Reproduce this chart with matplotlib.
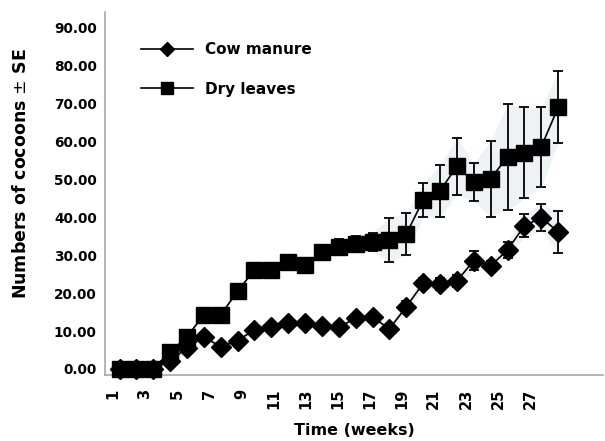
import numpy as np
import matplotlib
matplotlib.use('Agg')
import matplotlib.pyplot as plt

plt.rcParams['font.family'] = ['DejaVu Sans']

##################################### data
weeks = np.arange(1, 28)
cow_manure = [0, 0, 0, 2.2, 5.5, 8.5, 5.8, 7.5, 10.3, 11.0, 12.2, 12.0, 11.2, 11.0,
              13.4, 13.6, 10.6, 16.4, 22.6, 22.4, 23.2, 28.6, 27.2, 31.4, 37.8, 39.9, 36.2]
cow_se = [0, 0, 0, 1, 1, 1, 0.8, 0.8, 1, 1, 1, 0.8, 0.8, 0.8,
          0.8, 0.8, 1, 1.5, 1.5, 1.5, 1.5, 2.5, 1.2, 2, 3, 3.5, 5.5]
dry_leaves = [0, 0, 0, 4.5, 8.5, 14.3, 14.3, 20.5, 26.2, 26.2, 28.2, 27.4, 30.8, 32.3,
              33.0, 33.5, 34.0, 35.6, 44.6, 47.0, 53.5, 49.3, 50.2, 56.0, 57.0, 58.6, 69.0]
dry_se = [0, 0, 0, 0.5, 0.5, 0.5, 0.5, 0.5, 0.5, 0.5, 0.5, 0.8, 1, 2,
          2, 2.5, 5.8, 5.5, 4.5, 6.8, 7.5, 5, 10, 14, 12, 10.5, 9.5]
tick_weeks = np.arange(1, 28, 2)
y_ticks = np.arange(0, 91, 10)

cow = np.array(cow_manure)
dry = np.array(dry_leaves)

fig = plt.figure(figsize=(6.05, 4.41), dpi=100)
ax = fig.add_axes([0.1736, 0.1497, 0.8231, 0.8231])

# faint shading between the error bars, as in the scanned figure
ax.fill_between(weeks, dry - np.array(dry_se), dry + np.array(dry_se), color='#edf2f5', lw=0, zorder=1)
ax.fill_between(weeks, cow - np.array(cow_se), cow + np.array(cow_se), color='#edf2f5', lw=0, zorder=1)

ax.errorbar(weeks, dry, yerr=dry_se, fmt='none', ecolor='black', elinewidth=1.3,
            capsize=3.8, capthick=1.3, zorder=2)
ax.errorbar(weeks, cow, yerr=cow_se, fmt='none', ecolor='black', elinewidth=1.3,
            capsize=3.8, capthick=1.3, zorder=2)

ax.plot(weeks, cow, color='black', lw=1.2, marker='D', markersize=10,
        markerfacecolor='black', markeredgecolor='black', label='Cow manure',
        zorder=3, clip_on=False)
ax.plot(weeks, dry, color='black', lw=1.2, marker='s', markersize=11,
        markerfacecolor='black', markeredgecolor='black', label='Dry leaves',
        zorder=4, clip_on=False)

ax.set_xlim(0.14, 29.66)
ax.set_ylim(-1.6, 94.2)

# the week labels in the original sit on a slightly compressed scale
ax.set_xticks(tick_weeks * 0.951 - 0.34)
ax.set_xticklabels([str(w) for w in tick_weeks], rotation=90, fontsize=10.5,
                   fontweight='bold', va='top')
ax.set_yticks(y_ticks)
ax.set_yticklabels(['%.2f' % v for v in y_ticks], fontsize=9.8, fontweight='bold')
ax.tick_params(axis='x', length=0, pad=10)
ax.tick_params(axis='y', length=0, pad=6)

for s in ['top', 'right']:
    ax.spines[s].set_visible(False)
for s in ['left', 'bottom']:
    ax.spines[s].set_color('#a8a8a8')
    ax.spines[s].set_linewidth(1.2)

ax.set_xlabel('Time (weeks)', fontsize=11.5, fontweight='bold', labelpad=10)
ax.set_ylabel('Numbers of cocoons $\\pm$ SE', fontsize=12.5, fontweight='bold')
ax.yaxis.set_label_coords(-0.151, 0.555)

leg = ax.legend(loc='upper left', bbox_to_anchor=(0.045, 0.955), frameon=False,
                handlelength=3.4, markerscale=0.75, labelspacing=1.6,
                prop={'weight': 'bold', 'size': 11})

plt.savefig('out.png', dpi=100)
